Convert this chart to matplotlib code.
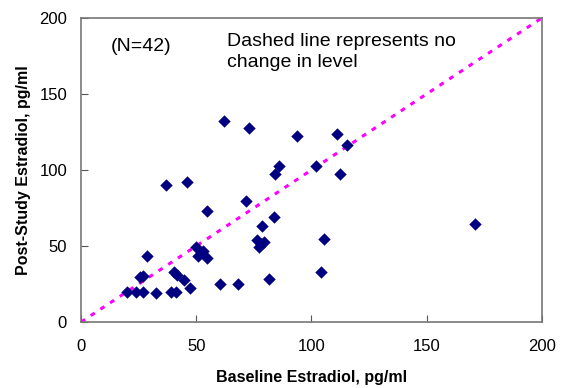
import numpy as np
import matplotlib.pyplot as plt

plt.rcParams['font.family'] = ['Liberation Sans', 'DejaVu Sans']

# Baseline vs post-study estradiol (pg/ml)
baseline = [62.0, 73.0, 86.0, 84.3, 36.8, 46.0, 71.5, 54.6, 83.6, 78.5,
            76.3, 79.5, 77.3, 28.8, 50.1, 53.0, 50.8, 54.6, 40.2, 41.8,
            25.4, 27.1, 44.9, 47.2, 60.2, 68.3, 81.5, 20.1, 23.9, 27.1,
            32.7, 38.9, 41.1, 93.8, 111.2, 115.4, 102.1, 112.2, 105.4, 104.3,
            171.1, 78.0]
post_study = [132.0, 127.7, 102.6, 97.1, 90.2, 92.2, 79.9, 72.7, 69.0, 63.3,
              54.1, 52.6, 49.3, 43.4, 49.3, 46.6, 43.1, 42.3, 32.9, 31.1,
              29.6, 30.2, 27.8, 22.3, 25.0, 25.0, 28.5, 19.7, 19.7, 19.7,
              19.1, 19.7, 19.7, 122.0, 123.7, 116.5, 102.7, 97.2, 54.8, 32.9,
              64.2, 51.0]

no_change = [0, 200]

fig = plt.figure(figsize=(5.64, 3.88), dpi=100)
ax = fig.add_axes([0.1436, 0.170, 0.8174, 0.784])

ax.plot(no_change, no_change, color='#ff00ff', linestyle=(0, (1.6, 2.2)),
        linewidth=2.2, zorder=1)
ax.scatter(baseline, post_study, marker='D', s=40, color='#000080', zorder=2,
           linewidths=0)

ax.set_xlim(0, 200)
ax.set_ylim(0, 200)
ax.set_xticks([0, 50, 100, 150, 200])
ax.set_yticks([0, 50, 100, 150, 200])
ax.tick_params(direction='in', length=5, color='#555555', labelsize=12)
ax.tick_params(axis='x', pad=12)
ax.tick_params(axis='y', pad=10)
for s in ax.spines.values():
    s.set_color('#777777')
    s.set_linewidth(1.2)

ax.set_xlabel('Baseline Estradiol, pg/ml', fontsize=11.5, fontweight='bold', labelpad=12)
ax.set_ylabel('Post-Study Estradiol, pg/ml', fontsize=11.5, fontweight='bold', labelpad=6)

ax.text(13, 181, '(N=42)', fontsize=14, va='center')
ax.text(63.5, 190, 'Dashed line represents no\nchange in level', fontsize=14,
        va='top', linespacing=1.3)

fig.savefig('out.png', dpi=100)
